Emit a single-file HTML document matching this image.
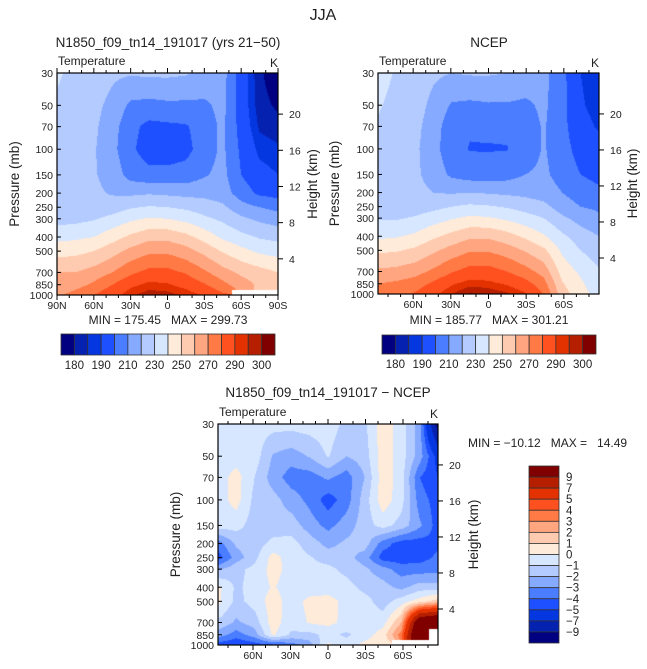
<!DOCTYPE html>
<html><head><meta charset="utf-8"><style>
html,body{margin:0;padding:0;background:#fff;}
#wrap{position:relative;width:647px;height:669px;overflow:hidden;font-family:"Liberation Sans",sans-serif;}
canvas{position:absolute;}
svg{position:absolute;left:0;top:0;}
text{font-family:"Liberation Sans",sans-serif;fill:#222;white-space:pre;}
</style></head><body>
<div id="wrap">
<canvas id="c1"></canvas>
<canvas id="c2"></canvas>
<canvas id="c3"></canvas>
<svg id="ov" width="647" height="669" xml:space="preserve"></svg>
</div>
<script>
// ---- data ----
const levels = [1000,850,700,500,400,300,250,200,150,100,70,50,30];
const latsP1 = [90,75,60,45,30,15,0,-15,-30,-45,-60,-75,-90];
const latsP2 = [88,73.33,58.67,44,29.33,14.67,0,-14.67,-29.33,-44,-58.67,-73.33,-88];
const modelT = [
 [268,262,260,246,237,226,225,224,224,226,228,229,231],
 [274,266,260,247,238,227,224,223,223,224,225,226,228],
 [280,272,264,250,240,229,223,222,221,221,222,223,226],
 [287,280,270,256,246,233,225,219,216,213,214,217,222],
 [294,288,278,263,252,238,229,218,206,202,203,208,221],
 [298,292,283,268,257,241,231,219,203,195,197,207,222],
 [297,291,283,268,257,240,230,218,203,195,198,208,222],
 [294,287,279,264,253,237,228,217,204,197,199,208,221],
 [289,281,272,257,246,232,225,217,209,205,205,208,218],
 [282,273,264,249,238,228,222,215,213,212,212,213,214],
 [NaN,265,258,243,233,222,214,205,200,198,196,195,195],
 [NaN,258,254,238,229,218,210,198,193,188,184,182,181],
 [NaN,255,250,236,227,215,207,196,190,186,182,179,176]
];
const ncepT = [
 [272,270,262,248,238,229,226,226,227,228,229,231,234],
 [276,272,263,249,239,229,225,224,223,224,226,227,229],
 [281,275,266,252,242,231,225,223,222,222,223,225,227],
 [288,282,272,258,248,235,227,220,216,214,215,217,222],
 [295,289,279,264,253,239,230,219,208,203,204,209,220],
 [300.5,293,284,269,258,242,232,220,205,199.5,201,208,221],
 [299,292,284,269,258,241,231,219,205,199.3,202,209,221],
 [296,289,280,265,254,238,229,218,206,199.6,202,209,220],
 [291,284,274,259,248,234,226,217,210,204,205,208,217],
 [280,274,266,252,241,230,223,215,212,211,211,212,213],
 [254,251,246,238,232,222,215,210,206,204,203,203,203],
 [245,242,238,230,225,216,210,205,200,196,193,191,190],
 [235,232,231,225,220,212,208,202,197,193,189,187,186]
];
const diffT = [
 [-4.5,-2.5,-1.2,0.3,0.2,-2.2,-4.5,-3.5,-0.5,-0.5,-0.5,-0.5,-0.5],
 [-5,-3.5,-2.2,-1.3,-1.2,-1.3,-2.5,-1.8,-0.6,0.4,0.4,-0.5,-0.5],
 [-4.5,-2.5,-1.5,-0.6,-0.6,-0.7,-1.3,-1.5,-1.5,-1.3,-1,-0.5,-0.5],
 [-4.2,0.2,0.5,0.5,0.1,0.4,0.4,-0.7,-1.6,-1.6,-2.5,-2.1,-0.6],
 [-3.5,-1.2,-0.6,-0.5,-0.5,-0.4,-0.5,-0.6,-1.5,-2.5,-3.5,-2.5,-0.6],
 [-2.5,-1.3,0.1,0.3,-0.6,-0.6,-0.9,-1.5,-2.5,-3.3,-3.5,-1.9,-0.5],
 [0.2,-0.7,0.3,0.4,-0.5,-0.7,-1.5,-2.3,-3.3,-4.5,-2.8,-0.9,-0.4],
 [-0.5,-1.2,-0.3,-0.3,-0.6,-1.3,-1.6,-1.8,-2.5,-3.5,-3.5,-2,-1.3],
 [0.3,-0.5,-0.5,-0.6,-1.3,-1.8,-2.5,-1.5,-1.5,-1.5,-2,-1.5,-1.2],
 [0.5,0.5,-0.4,-1.5,-1.6,-2.6,-4.5,-3.5,-0.6,0.6,0.6,0.6,0.6],
 [NaN,3.5,2,-0.5,-2.3,-3.5,-4.6,-4.5,-1.4,-0.6,-0.5,-0.5,-0.5],
 [NaN,14,12,0.5,-1.5,-3.5,-4.4,-4.5,-2.8,-3.5,-4,-2.5,-2.5],
 [NaN,NaN,13,1.5,-1.5,-3.4,-3.8,-4.2,-4.5,-4.5,-5,-5.5,-10]
];
const tempBounds = [180,185,190,200,210,220,230,240,250,260,270,280,290,295,300];
const tempLabels = ["180","190","210","230","250","270","290","300"];
const diffBounds = [-9,-7,-5,-4,-3,-2,-1,0,1,2,3,4,5,7,9];
const diffLabels = ["9","7","5","4","3","2","1","0","\u22121","\u22122","\u22123","\u22124","\u22125","\u22127","\u22129"];
const colors = ["#000080","#0521b0","#0537e0","#1e50ff","#4a7dff","#86aaff","#b4cbff","#d7e7ff","#ffebd9","#ffcbb0","#ffa680","#ff7a45","#ff5020","#e33200","#b51f00","#800000"];
const pLabels = [1000,850,700,500,400,300,250,200,150,100,70,50,30];
const kmTicks = [4,8,12,16,20];

const P1 = {x0:57,x1:278,y0:73,y1:295,dom:90,lats:latsP1,grid:modelT,bounds:tempBounds,cv:'c1',
  xt:[[90,'90N'],[60,'60N'],[30,'30N'],[0,'0'],[-30,'30S'],[-60,'60S'],[-90,'90S']]};
const P2 = {x0:378,x1:599,y0:73,y1:294,dom:88,lats:latsP2,grid:ncepT,bounds:tempBounds,cv:'c2',
  xt:[[60,'60N'],[30,'30N'],[0,'0'],[-30,'30S'],[-60,'60S']]};
const P3 = {x0:218,x1:438,y0:424,y1:645,dom:88,lats:latsP2,grid:diffT,bounds:diffBounds,cv:'c3',
  xt:[[60,'60N'],[30,'30N'],[0,'0'],[-30,'30S'],[-60,'60S']]};
const L30=Math.log10(30), LR=Math.log10(1000/30);
function yOfP(P,p){return P.y0+(Math.log10(p)-L30)/LR*(P.y1-P.y0);}
function xOfLat(P,lat){return P.x0+(P.dom-lat)/(2*P.dom)*(P.x1-P.x0);}
function classOf(v,b){let k=0;while(k<b.length&&v>=b[k])k++;return k;}
const logLev = levels.map(p=>Math.log10(p));

function sample(P,lat,p){
  const lats=P.lats,n=lats.length;
  let t=(lats[0]-lat)/(lats[0]-lats[n-1])*(n-1);
  t=Math.max(0,Math.min(n-1-1e-6,t));
  const i=Math.floor(t),fx=t-i;
  const lp=Math.log10(p);
  let j=0;while(j<levels.length-2&&lp<logLev[j+1])j++;
  let fy=(logLev[j]-lp)/(logLev[j]-logLev[j+1]);fy=Math.max(0,Math.min(1,fy));
  const c=[[i,j,(1-fx)*(1-fy)],[i+1,j,fx*(1-fy)],[i,j+1,(1-fx)*fy],[i+1,j+1,fx*fy]];
  let best=c[0];for(const q of c)if(q[2]>best[2])best=q;
  if(isNaN(P.grid[best[0]][best[1]]))return NaN;
  let s=0,w=0;for(const q of c){const v=P.grid[q[0]][q[1]];if(!isNaN(v)){s+=v*q[2];w+=q[2];}}
  return s/w;
}
function render(P){
  const cv=document.getElementById(P.cv);
  const W=P.x1-P.x0,H=P.y1-P.y0;
  cv.width=W;cv.height=H;cv.style.left=P.x0+'px';cv.style.top=P.y0+'px';
  const ctx=cv.getContext('2d');const img=ctx.createImageData(W,H);
  const rgb=colors.map(h=>[parseInt(h.substr(1,2),16),parseInt(h.substr(3,2),16),parseInt(h.substr(5,2),16)]);
  for(let py=0;py<H;py++){
    const yy=P.y0+py+0.5;
    const p=Math.pow(10,L30+(yy-P.y0)/(P.y1-P.y0)*LR);
    for(let px=0;px<W;px++){
      const lat=P.dom-(px+0.5)/W*2*P.dom;
      const v=sample(P,lat,p);
      const o=(py*W+px)*4;
      if(isNaN(v)){img.data[o]=255;img.data[o+1]=255;img.data[o+2]=255;}
      else{const c=rgb[classOf(v,P.bounds)];img.data[o]=c[0];img.data[o+1]=c[1];img.data[o+2]=c[2];}
      img.data[o+3]=255;
    }
  }
  ctx.putImageData(img,0,0);
}
[P1,P2,P3].forEach(render);

const NS='http://www.w3.org/2000/svg';
const ov=document.getElementById('ov');
function mk(tag,attrs,txt){const e=document.createElementNS(NS,tag);for(const k in attrs)e.setAttribute(k,attrs[k]);if(txt!==undefined)e.textContent=txt;ov.appendChild(e);return e;}
function txt(x,y,s,size,anchor,name,rot){
  const e=mk('text',{x:x,y:y,'font-size':size,'text-anchor':anchor||'start'},s);
  if(rot)e.setAttribute('transform','rotate(-90 '+x+' '+y+')');
  
  
  return e;
}
function line(x1,y1,x2,y2,name){const e=mk('line',{x1:x1,y1:y1,x2:x2,y2:y2,stroke:'#000','stroke-width':1});
  
  }

function axes(P,pre,opt){
  const f=mk('rect',{x:P.x0,y:P.y0,width:P.x1-P.x0,height:P.y1-P.y0,fill:'none',stroke:'#000','stroke-width':1.2});
  
  
  for(let lat=-90;lat<=90;lat+=10){
    if(Math.abs(lat)>P.dom)continue;
    const x=xOfLat(P,lat),len=(lat%30===0)?5:3;
    line(x,P.y0,x,P.y0-len,pre+'-top-tick');
    line(x,P.y1,x,P.y1+len,pre+'-bottom-tick');
  }
  P.xt.forEach(t=>txt(xOfLat(P,t[0]),P.y1+14,t[1],10.5,'middle',pre+'-x-tick-label'));
  pLabels.forEach(p=>{const y=yOfP(P,p);line(P.x0,y,P.x0+4,y,pre+'-y-tick');
    txt(P.x0-4,y+4,String(p),10.5,'end',pre+'-y-tick-label');});
  kmTicks.forEach(z=>{const y=yOfP(P,1000*Math.exp(-z/7));line(P.x1,y,P.x1+5,y,pre+'-km-tick');
    txt(P.x1+11,y+4,String(z),10.5,'start',pre+'-km-tick-label');});
  txt(P.x0+1,P.y0-8,'Temperature',12,'start',pre+'-variable-label');
  txt(P.x1-4,P.y0-6,'K',12,'middle',pre+'-units-label');
  txt(opt.plx,(P.y0+P.y1)/2,'Pressure (mb)',13.5,'middle',pre+'-y-axis-title',true);
  txt(opt.hlx,(P.y0+P.y1)/2,'Height (km)',13.5,'middle',pre+'-right-axis-title',true);
}
txt(323,20,'JJA',16,'middle','figure-title');
txt(168,47,'N1850_f09_tn14_191017 (yrs 21\u221250)',13.5,'middle','model-panel-title');
txt(489,47,'NCEP',13.5,'middle','ncep-panel-title');
txt(328,397,'N1850_f09_tn14_191017 \u2212 NCEP',13.5,'middle','difference-panel-title');
axes(P1,'model',{plx:19,hlx:317});
axes(P2,'ncep',{plx:339,hlx:637});
axes(P3,'diff',{plx:180,hlx:478});
txt(168,324,'MIN = 175.45   MAX = 299.73',12,'middle','model-min-max');
txt(489,324,'MIN = 185.77   MAX = 301.21',12,'middle','ncep-min-max');
txt(468,447,'MIN = \u221210.12   MAX =   14.49',12,'start','diff-min-max');

function hbar(x0,x1,y0,y1,pre){
  const w=(x1-x0)/colors.length;
  colors.forEach((c,i)=>{const r=mk('rect',{x:x0+i*w,y:y0,width:w,height:y1-y0,fill:c,stroke:'#333','stroke-width':0.8});
    
    });
  tempLabels.forEach((s,k)=>txt(x0+(2*k+1)*w,y1+14,s,11.5,'middle',pre+'-colorbar-label'));
}
hbar(61,275,334,355,'model');
hbar(382,596,335,354,'ncep');
(function(){
  const x0=529,x1=559,y0=466,y1=643,h=(y1-y0)/colors.length;
  colors.slice().reverse().forEach((c,i)=>{const r=mk('rect',{x:x0,y:y0+i*h,width:x1-x0,height:h,fill:c,stroke:'#333','stroke-width':0.8});
    
    });
  diffLabels.forEach((s,k)=>txt(x0+37,y0+(k+1)*h+4,s,11.5,'start','diff-colorbar-label'));
})();
</script>
</body></html>
